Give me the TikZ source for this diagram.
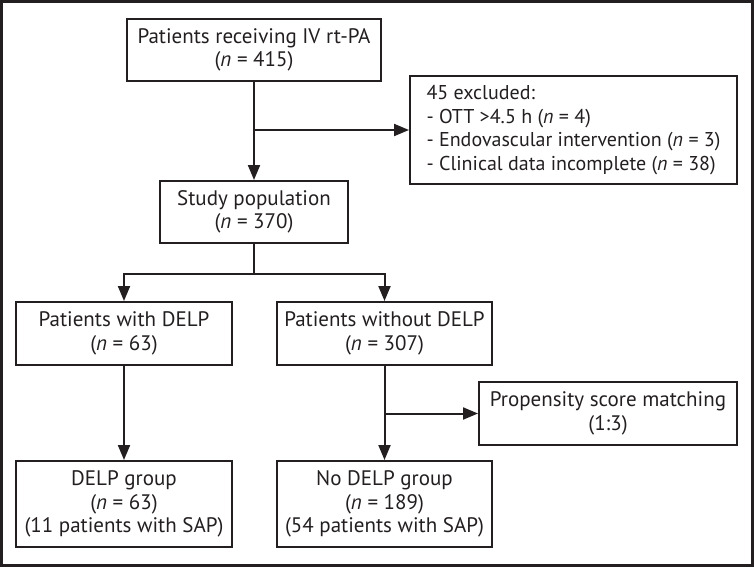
\documentclass[tikz,border=0pt]{standalone}
\usepackage{fontspec}
\setmainfont{PT Sans}
\usetikzlibrary{arrows.meta}
\definecolor{ink}{HTML}{231F20}
\begin{document}
\begin{tikzpicture}[x=1pt,y=-1pt,
  box/.style={draw=ink,line width=2pt,text=ink,align=center,inner sep=0pt,
    font=\fontsize{21}{23.5}\selectfont},
  conn/.style={draw=ink,line width=2pt},
  arr/.style={conn,-{Triangle[length=15pt,width=12pt]}}]
\useasboundingbox (0,0) rectangle (754,567);
\draw[ink,line width=3pt] (1.5,1.5) rectangle (752.5,565.5);
\node[box,minimum width=254,minimum height=62] (top) at (254,50) {Patients receiving IV rt-PA\\(\textit{n} = 415)};
\node[box,align=left,inner xsep=11pt,minimum width=327,minimum height=108,font=\fontsize{20}{23.5}\selectfont] (exc) at (573.5,130) {45 excluded:\\- OTT >4.5 h (\textit{n} = 4)\\- Endovascular intervention (\textit{n} = 3)\\- Clinical data incomplete (\textit{n} = 38)};
\node[box,minimum width=188,minimum height=62] (study) at (254,212) {Study population\\(\textit{n} = 370)};
\node[box,minimum width=216,minimum height=63] (with) at (124,333.5) {Patients with DELP\\(\textit{n} = 63)};
\node[box,minimum width=215,minimum height=63] (without) at (384.5,333.5) {Patients without DELP\\(\textit{n} = 307)};
\node[box,minimum width=216,minimum height=86] (dgrp) at (124,504) {DELP group\\(\textit{n} = 63)\\(11 patients with SAP)};
\node[box,minimum width=215,minimum height=86] (ndgrp) at (384.5,504) {No DELP group\\(\textit{n} = 189)\\(54 patients with SAP)};
\node[box,minimum width=258,minimum height=63] (psm) at (608,413.5) {Propensity score matching\\(1:3)};
\coordinate (j1) at (top.south |- exc.west);
\coordinate (j2) at (without.south |- psm.west);
\draw[arr] (top.south) -- (study.north);
\draw[arr] (j1) -- (exc.west);
\draw[conn] (study.south) -- ++(0,30) coordinate (sp);
\draw[arr] (sp) -| (with.north);
\draw[arr] (sp) -| (without.north);
\draw[arr] (with.south) -- (dgrp.north);
\draw[arr] (without.south) -- (ndgrp.north);
\draw[arr] (j2) -- (psm.west);
\end{tikzpicture}
\end{document}
